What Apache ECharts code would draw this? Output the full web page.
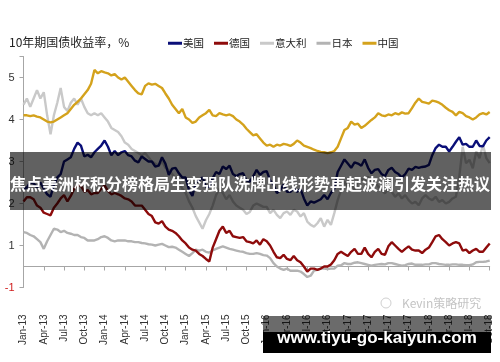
<!DOCTYPE html>
<html>
<head>
<meta charset="utf-8">
<script src="https://cdn.jsdelivr.net/npm/echarts@6/dist/echarts.min.js"></script>
<style>html,body{margin:0;padding:0;background:#fff}#c{width:500px;height:362px}</style>
</head>
<body>
<div id="c"></div>
<script>
// quarterly tick labels; data sampled twice a month from Jan-13 to Oct-18
const tickLabels = ['Jan-13','Apr-13','Jul-13','Oct-13','Jan-14','Apr-14','Jul-14','Oct-14','Jan-15','Apr-15','Jul-15','Oct-15','Jan-16','Apr-16','Jul-16','Oct-16','Jan-17','Apr-17','Jul-17','Oct-17','Jan-18','Apr-18','Jul-18','Oct-18'];
const pointsPerTick = 6;
const yTickValues = [-0.5, 0.5, 1.5, 2.5, 3.5, 4.5];
const yTickTexts  = ['-1', '1', '2', '3', '4', '5'];
const seriesNames = ['美国','德国','意大利','日本','中国'];

const us = [1.85,1.88,2.0,1.98,1.88,2.0,1.85,1.72,1.66,1.95,2.12,2.2,2.5,2.55,2.6,2.8,2.95,2.88,2.62,2.66,2.6,2.72,2.8,2.88,
 3.0,2.85,2.65,2.75,2.65,2.72,2.75,2.65,2.62,2.52,2.48,2.62,2.56,2.5,2.5,2.38,2.4,2.6,2.45,2.18,2.33,2.35,2.22,2.12,
 2.12,1.82,1.68,2.0,2.05,2.12,1.9,1.9,2.1,2.25,2.2,2.38,2.32,2.4,2.2,2.15,2.2,2.22,2.05,2.02,2.15,2.3,2.18,2.25,
 2.27,2.05,1.95,1.75,1.82,1.95,1.78,1.78,1.85,1.78,1.85,1.62,1.45,1.55,1.52,1.56,1.6,1.7,1.6,1.75,1.85,2.25,2.4,2.55,
 2.45,2.35,2.48,2.45,2.4,2.55,2.35,2.22,2.3,2.32,2.2,2.15,2.3,2.35,2.25,2.2,2.12,2.2,2.33,2.3,2.37,2.35,2.37,2.38,
 2.42,2.65,2.82,2.9,2.85,2.85,2.74,2.85,2.97,3.08,2.9,2.92,2.85,2.85,3.0,2.87,2.86,3.0,3.08];
const germany = [1.55,1.65,1.65,1.6,1.45,1.4,1.28,1.25,1.22,1.4,1.5,1.62,1.7,1.55,1.68,1.85,1.95,1.92,1.78,1.82,1.72,1.75,1.75,1.85,
 1.93,1.8,1.72,1.75,1.72,1.68,1.62,1.6,1.55,1.45,1.45,1.45,1.35,1.25,1.2,1.05,1.02,1.08,0.95,0.88,0.85,0.8,0.72,0.62,
 0.55,0.45,0.4,0.38,0.3,0.25,0.18,0.12,0.45,0.65,0.85,0.95,0.8,0.85,0.72,0.7,0.68,0.7,0.6,0.58,0.55,0.62,0.52,0.65,
 0.6,0.5,0.35,0.22,0.2,0.28,0.18,0.15,0.25,0.15,0.1,0.0,-0.12,-0.05,-0.05,-0.08,-0.05,0.0,0.0,0.05,0.15,0.3,0.35,0.3,
 0.25,0.35,0.42,0.3,0.3,0.45,0.3,0.22,0.35,0.42,0.3,0.28,0.48,0.58,0.5,0.42,0.35,0.42,0.48,0.4,0.38,0.38,0.32,0.4,
 0.45,0.58,0.72,0.75,0.65,0.58,0.5,0.55,0.58,0.55,0.38,0.4,0.32,0.38,0.42,0.35,0.35,0.45,0.55];
const italy = [3.85,4.0,3.8,4.0,4.2,4.0,4.15,3.6,3.15,3.6,3.9,4.25,3.8,3.7,3.9,4.0,3.85,4.0,3.8,3.65,3.6,3.65,3.6,3.65,
 3.55,3.45,3.3,3.25,3.2,3.1,2.95,2.9,2.8,2.75,2.7,2.65,2.7,2.6,2.5,2.45,2.4,2.5,2.35,2.3,2.2,2.1,2.0,1.85,
 1.75,1.55,1.4,1.2,1.05,0.9,1.1,1.25,1.45,1.7,1.85,1.75,1.6,1.7,1.55,1.45,1.4,1.35,1.25,1.3,1.45,1.5,1.46,1.42,
 1.42,1.27,1.35,1.23,1.15,1.27,1.31,1.23,1.35,1.31,1.19,1.27,1.07,0.99,0.95,1.03,1.15,0.95,1.11,0.99,1.27,1.58,1.82,2.02,
 1.9,1.98,1.82,2.02,2.1,2.02,2.14,1.98,2.02,1.9,1.82,1.74,1.86,1.78,1.66,1.74,1.62,1.7,1.58,1.5,1.54,1.46,1.62,1.7,
 1.62,1.58,1.66,1.54,1.58,1.5,1.54,1.62,1.66,2.14,2.85,2.46,2.54,2.34,2.74,2.58,2.9,2.58,2.46];
const japan = [0.82,0.8,0.75,0.72,0.65,0.58,0.42,0.6,0.75,0.9,0.88,0.82,0.85,0.8,0.78,0.75,0.75,0.7,0.68,0.62,0.62,0.62,0.65,0.7,
 0.72,0.68,0.62,0.6,0.62,0.62,0.62,0.6,0.6,0.58,0.58,0.56,0.55,0.53,0.52,0.5,0.52,0.54,0.5,0.46,0.47,0.45,0.4,0.35,
 0.3,0.25,0.32,0.4,0.38,0.4,0.35,0.33,0.38,0.42,0.45,0.48,0.45,0.42,0.4,0.38,0.36,0.35,0.32,0.3,0.3,0.32,0.3,0.27,
 0.26,0.2,0.08,0.0,-0.05,-0.08,-0.05,-0.1,-0.1,-0.1,-0.12,-0.18,-0.25,-0.22,-0.1,-0.08,-0.05,-0.05,-0.06,-0.05,-0.05,0.02,0.03,0.08,
 0.06,0.06,0.09,0.1,0.08,0.06,0.04,0.02,0.04,0.05,0.06,0.05,0.08,0.08,0.06,0.04,0.02,0.03,0.06,0.07,0.04,0.04,0.04,0.05,
 0.05,0.08,0.08,0.06,0.05,0.04,0.04,0.05,0.05,0.04,0.04,0.03,0.03,0.05,0.1,0.11,0.11,0.12,0.14];
const china = [3.6,3.6,3.58,3.6,3.57,3.55,3.5,3.45,3.43,3.45,3.5,3.55,3.6,3.65,3.75,3.85,3.92,4.0,4.1,4.2,4.35,4.68,4.6,4.65,
 4.62,4.6,4.55,4.58,4.5,4.45,4.5,4.4,4.3,4.2,4.12,4.1,4.3,4.36,4.33,4.35,4.3,4.25,4.12,4.0,3.85,3.75,3.65,3.75,
 3.55,3.5,3.42,3.45,3.55,3.6,3.65,3.73,3.6,3.58,3.65,3.62,3.6,3.62,3.58,3.5,3.45,3.38,3.28,3.2,3.12,3.15,3.05,2.95,
 2.88,2.9,2.85,2.9,2.88,2.92,2.9,2.87,2.92,3.0,2.95,2.88,2.85,2.82,2.78,2.75,2.73,2.72,2.7,2.72,2.75,2.85,3.05,3.25,
 3.3,3.45,3.38,3.4,3.3,3.35,3.42,3.49,3.55,3.65,3.6,3.58,3.62,3.6,3.65,3.62,3.67,3.64,3.65,3.77,3.9,4.0,3.92,3.9,
 3.88,3.95,3.93,3.9,3.85,3.78,3.72,3.68,3.6,3.68,3.65,3.58,3.55,3.5,3.55,3.62,3.65,3.62,3.68];

const categories = us.map((_, i) => String(i));
const colors = {'美国':'#0a0f78','德国':'#8e0b0b','意大利':'#c9c9c9','日本':'#b3b3b3','中国':'#d4a21c'};
const dataMap = {'美国':us,'德国':germany,'意大利':italy,'日本':japan,'中国':china};
const drawOrder = ['意大利','日本','德国','美国','中国'];

const chart = echarts.init(document.getElementById('c'), null, {renderer:'canvas'});
chart.setOption({
  animation:false,
  backgroundColor:'#ffffff',
  title:{text:'10年期国债收益率，%', left:4, top:31,
    textStyle:{fontSize:12, fontWeight:'normal', color:'#222', fontFamily:'"Noto Sans CJK SC", sans-serif'}},
  legend:{data:seriesNames, left:163, top:33, icon:'rect', itemWidth:14, itemHeight:3, itemGap:10,
    textStyle:{fontSize:10.5, color:'#222', fontFamily:'"Noto Sans CJK SC", sans-serif', padding:[0,0,0,-4]}},
  grid:{left:23.5, right:10.3, top:56.5, bottom:74.5},
  xAxis:{type:'category', data:categories, boundaryGap:false,
    axisLine:{onZero:true, lineStyle:{color:'#a6a6a6', width:1}},
    axisTick:{interval:pointsPerTick-1, length:4, lineStyle:{color:'#a6a6a6'}},
    axisLabel:{interval:pointsPerTick-1, rotate:90, margin:27, fontSize:10, color:'#333',
      fontFamily:'"Liberation Sans", Arial, sans-serif',
      formatter:(v, i) => (i % pointsPerTick === 0 ? tickLabels[i / pointsPerTick] : '')},
    splitLine:{show:false}},
  yAxis:{type:'value', min:-0.5, max:5, interval:1,
    axisLine:{show:true, lineStyle:{color:'#a6a6a6'}},
    axisTick:{show:true, length:4, lineStyle:{color:'#a6a6a6'}},
    axisLabel:{margin:9, fontSize:11, fontFamily:'"Liberation Sans", Arial, sans-serif',
      color:(v) => (Number(v) < 0 ? '#d01c1c' : '#333'),
      formatter:(v) => { const k = yTickValues.findIndex(t => Math.abs(t - v) < 1e-6); return k >= 0 ? yTickTexts[k] : ''; }},
    splitLine:{show:false}},
  series: drawOrder.map(n => ({name:n, type:'line', data:dataMap[n], showSymbol:false, symbol:'none',
    lineStyle:{color:colors[n], width:2.4}, itemStyle:{color:colors[n]}})),
  graphic:[
    {type:'circle', shape:{cx:386, cy:303, r:5}, style:{fill:'none', stroke:'#d0d0d0', lineWidth:1}, z:50},
    {type:'text', x:402, y:303, style:{text:'Kevin策略研究', font:'12px "Noto Sans CJK SC", sans-serif', fill:'#c4c4c4', textVerticalAlign:'middle'}, z:50},
    {type:'rect', shape:{x:10, y:152, width:481, height:58}, style:{fill:'rgba(0,0,0,0.62)'}, z:100},
    {type:'text', x:10, y:184, style:{text:'焦点美洲杯积分榜格局生变强队洗牌出线形势再起波澜引发关注热议', font:'bold 16px "Noto Sans CJK SC", sans-serif', fill:'#ffffff', textVerticalAlign:'middle'}, z:101},
    {type:'rect', shape:{x:263, y:316, width:228, height:16}, style:{fill:'rgba(0,0,0,0.58)'}, z:100},
    {type:'rect', shape:{x:263, y:332, width:228, height:21}, style:{fill:'#000000'}, z:100},
    {type:'text', x:377, y:338, style:{text:'www.tiyu-go-kaiyun.com', font:'bold 17px "Liberation Sans", Arial, sans-serif', fill:'#ffffff', textAlign:'center', textVerticalAlign:'middle'}, z:101}
  ]
});
</script>
</body>
</html>
